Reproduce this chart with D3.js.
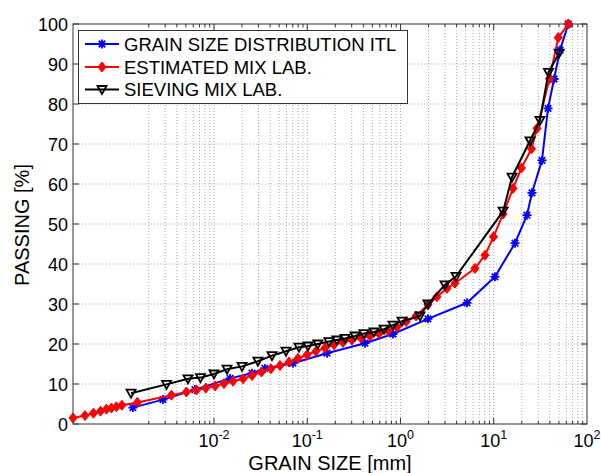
<!DOCTYPE html>
<html><head><meta charset="utf-8">
<script src="https://cdn.jsdelivr.net/npm/d3@7"></script>
<style>
html,body{margin:0;padding:0;background:#fff;}
svg{display:block;font-family:"Liberation Sans",Arial,sans-serif;}
</style></head>
<body><svg id="c" width="601" height="473"></svg>
<script>
// ---- data (grain size in mm, passing in %) ----
const itlSize = [0.00135,0.00284,0.00625,0.0149,0.0256,0.0352,0.0704,0.163,0.416,0.831,1.97,5.17,10.3,16.9,22.7,25.7,32.9,38.2,44.3,51.4,63];
const itlPass = [4.1,6.1,8.6,11.4,12.7,13.9,15.2,17.7,20.2,22.5,26.3,30.3,36.8,45.2,52.2,57.8,65.9,78.9,86.25,93.5,100];

const estSize = [0.000308,0.000414,0.00051,0.000607,0.000703,0.000796,0.0009,0.00103,0.00151,0.0035,0.00507,0.00649,0.0082,0.0103,0.0128,0.016,0.0205,0.0256,0.0323,0.0408,0.0511,0.0637,0.0796,0.0994,0.124,0.155,0.194,0.242,0.302,0.377,0.471,0.588,0.734,0.917,1.15,1.47,1.97,2.46,3.15,3.84,6.29,8.05,9.94,12.6,16.1,19.8,25.4,29.1,39.6,49.2,63];
const estPass = [1.5,2.1,2.7,3.2,3.7,4.0,4.3,4.7,5.4,7.2,8.0,8.5,9.0,9.5,10.1,10.7,11.3,12.1,13.0,13.8,14.6,15.5,16.4,17.3,18.2,19.0,19.8,20.4,21.0,21.5,22.0,22.6,23.3,24.2,25.6,27.0,29.8,31.8,33.9,35.2,38.9,42.2,46.8,52.5,58.9,64.0,68.8,73.9,86.3,96.6,100];

const sievSize = [0.00129,0.0031,0.00526,0.00717,0.01,0.0138,0.02,0.0296,0.0419,0.0592,0.0816,0.102,0.13,0.171,0.208,0.254,0.325,0.406,0.52,0.666,0.831,1.04,1.62,1.97,3.0,3.94,12.6,15.7,24.5,31.3,38.6,50.1];
const sievPass = [7.7,9.9,11.3,11.6,12.5,13.7,14.4,15.7,17.1,18.2,19.2,19.5,20.0,20.6,21.0,21.4,22.0,22.6,23.0,23.7,24.7,25.7,27.0,30.0,34.8,36.9,53.2,61.7,70.8,75.9,87.9,92.7];

const seriesNames = ["GRAIN SIZE DISTRIBUTION ITL","ESTIMATED MIX LAB.","SIEVING MIX LAB."];
const xTickExp = [-2,-1,0,1,2];
const yTicks = [0,10,20,30,40,50,60,70,80,90,100];
const xMin = 0.000308, xMax = 100;

// ---- layout ----
const L=73, R=587, T=24, B=424;
const svg = d3.select("#c");
const x = d3.scaleLog().domain([xMin,xMax]).range([L,R]);
const y = d3.scaleLinear().domain([0,100]).range([B,T]);

// grid values
const minor = [];
for (let e=-4; e<=1; e++) for (let k=1;k<=9;k++){ const v=k*Math.pow(10,e); if (v>=0.002 && v<xMax) minor.push(v); }

const grid = svg.append("g");
grid.selectAll("line.vx").data(minor).enter().append("line")
  .attr("x1",d=>x(d)).attr("x2",d=>x(d)).attr("y1",T).attr("y2",B)
  .attr("stroke","#a8a8a8").attr("stroke-width",1).attr("stroke-dasharray","1,2");
grid.selectAll("line.hy").data(yTicks.filter(v=>v>0&&v<100)).enter().append("line")
  .attr("x1",L).attr("x2",R).attr("y1",d=>y(d)).attr("y2",d=>y(d))
  .attr("stroke","#a8a8a8").attr("stroke-width",1).attr("stroke-dasharray","1,2");

// ticks (inside)
const tk = svg.append("g").attr("stroke","#333").attr("stroke-width",1);
minor.forEach(v=>{
  const isMajor = Math.abs(Math.log10(v)-Math.round(Math.log10(v)))<1e-9;
  const len = isMajor?6:3;
  tk.append("line").attr("x1",x(v)).attr("x2",x(v)).attr("y1",B).attr("y2",B-len);
  tk.append("line").attr("x1",x(v)).attr("x2",x(v)).attr("y1",T).attr("y2",T+len);
});
yTicks.forEach(v=>{
  tk.append("line").attr("x1",L).attr("x2",L+6).attr("y1",y(v)).attr("y2",y(v));
  tk.append("line").attr("x1",R).attr("x2",R-6).attr("y1",y(v)).attr("y2",y(v));
});

// box
svg.append("rect").attr("x",L).attr("y",T).attr("width",R-L).attr("height",B-T)
  .attr("fill","none").attr("stroke","#333").attr("stroke-width",1);

// y tick labels
svg.append("g").selectAll("text").data(yTicks).enter().append("text")
  .attr("x",L-5).attr("y",d=>y(d)+6.5).attr("text-anchor","end")
  .attr("font-size",18).attr("fill","#000").text(d=>d);

// x tick labels 10^n
const xl = svg.append("g");
xTickExp.forEach(e=>{
  const t = xl.append("text").attr("x",x(Math.pow(10,e))).attr("y",447)
    .attr("text-anchor","middle").attr("font-size",18).attr("fill","#000");
  t.append("tspan").text("10");
  t.append("tspan").attr("dy",-8).attr("font-size",12.5).text(String(e));
});

// axis titles
svg.append("text").attr("x",330).attr("y",470).attr("text-anchor","middle")
  .attr("font-size",20).attr("fill","#000").text("GRAIN SIZE [mm]");
svg.append("text").attr("transform","translate(29,225) rotate(-90)").attr("text-anchor","middle")
  .attr("font-size",20).attr("fill","#000").text("PASSING [%]");

// series
const clipId="plotclip";
svg.append("clipPath").attr("id",clipId).append("rect").attr("x",L-6).attr("y",T-6).attr("width",R-L+12).attr("height",B-T+12);
const plot = svg.append("g").attr("clip-path",`url(#${clipId})`);
const line = d3.line().x(d=>x(d[0])).y(d=>y(d[1]));

function asterisk(g, cx, cy, r, col){
  const a = r*0.72;
  const p = `M${cx-r},${cy}L${cx+r},${cy}M${cx},${cy-r}L${cx},${cy+r}M${cx-a},${cy-a}L${cx+a},${cy+a}M${cx-a},${cy+a}L${cx+a},${cy-a}`;
  g.append("path").attr("d",p).attr("stroke",col).attr("stroke-width",1.8).attr("fill","none");
}
function diamond(g, cx, cy, col){
  g.append("path").attr("d",`M${cx},${cy-5}L${cx+4},${cy}L${cx},${cy+5}L${cx-4},${cy}Z`)
    .attr("fill",col).attr("stroke",col).attr("stroke-width",1);
}
function tri(g, cx, cy, col){
  g.append("path").attr("d",`M${cx-4.5},${cy-3.5}L${cx+4.5},${cy-3.5}L${cx},${cy+4.5}Z`)
    .attr("fill","none").attr("stroke",col).attr("stroke-width",1.8);
}

const series = [
  {s:itlSize,p:itlPass,col:"#0000ff",mk:"ast"},
  {s:estSize,p:estPass,col:"#ff0000",mk:"dia"},
  {s:sievSize,p:sievPass,col:"#000000",mk:"tri"}
];
series.forEach(sr=>{
  const pts = sr.s.map((v,i)=>[v,sr.p[i]]);
  const g = plot.append("g");
  g.append("path").datum(pts).attr("d",line).attr("fill","none").attr("stroke",sr.col).attr("stroke-width",2);
  pts.forEach(d=>{
    const cx=x(d[0]), cy=y(d[1]);
    if (sr.mk==="ast") asterisk(g,cx,cy,4.5,sr.col);
    else if (sr.mk==="dia") diamond(g,cx,cy,sr.col);
    else tri(g,cx,cy,sr.col);
  });
});

// legend
const lg = svg.append("g");
lg.append("rect").attr("x",78.5).attr("y",30.5).attr("width",329).attr("height",73)
  .attr("fill","#fff").attr("stroke","#333").attr("stroke-width",1);
const rowsY = [44,67,89.5];
series.forEach((sr,i)=>{
  const yy = rowsY[i];
  lg.append("line").attr("x1",85).attr("x2",119).attr("y1",yy).attr("y2",yy).attr("stroke",sr.col).attr("stroke-width",2);
  if (sr.mk==="ast") asterisk(lg,102,yy,4.5,sr.col);
  else if (sr.mk==="dia") diamond(lg,102,yy,sr.col);
  else tri(lg,102,yy,sr.col);
  lg.append("text").attr("x",124).attr("y",yy+6.5).attr("font-size",18.5).attr("fill","#000").text(seriesNames[i]);
});
</script></body></html>
